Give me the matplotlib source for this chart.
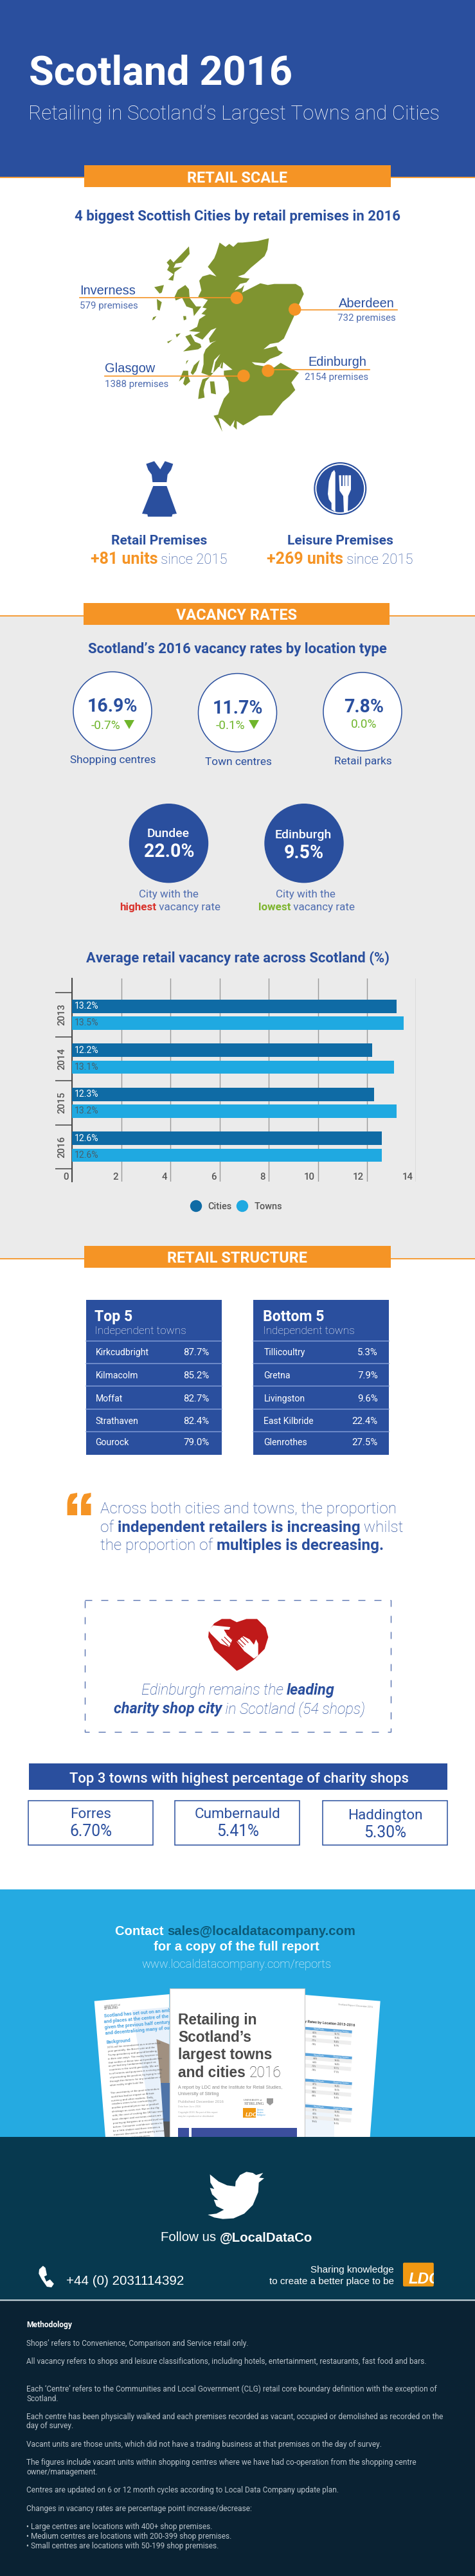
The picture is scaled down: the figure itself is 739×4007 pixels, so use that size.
import numpy as np
import matplotlib
matplotlib.use("Agg")
import matplotlib.pyplot as plt
from matplotlib.patches import Polygon, Rectangle, Circle, FancyBboxPatch, PathPatch
from matplotlib.path import Path

# chart values
years = ["2013", "2014", "2015", "2016"]
cities = [13.2, 12.2, 12.3, 12.6]
towns = [13.5, 13.1, 13.2, 12.6]
x_ticks = [0, 2, 4, 6, 8, 10, 12, 14]

big_cities = ["Inverness", "Aberdeen", "Glasgow", "Edinburgh"]
big_premises = [579, 732, 1388, 2154]

location_types = ["Shopping centres", "Town centres", "Retail parks"]
location_rates = ["16.9%", "11.7%", "7.8%"]
location_changes = ["-0.7%", "-0.1%", "0.0%"]

top_names = ["Kirkcudbright", "Kilmacolm", "Moffat", "Strathaven", "Gourock"]
top_vals = ["87.7%", "85.2%", "82.7%", "82.4%", "79.0%"]
bottom_names = ["Tillicoultry", "Gretna", "Livingston", "East Kilbride", "Glenrothes"]
bottom_vals = ["5.3%", "7.9%", "9.6%", "22.4%", "27.5%"]

charity_towns = ["Forres", "Cumbernauld", "Haddington"]
charity_vals = ["6.70%", "5.41%", "5.30%"]

left_page_blue = ["Scotland has set out on an ambitious", "and places at the centre of the country",
                  "given the previous half century was", "and decentralising many of our daily"]
left_page_body = ["2016 will be remembered as a momentous", "year generally: the Brexit vote and the",
                  "Trump presidency and ground-breaking", "in their own ways. The reality however is",
                  "that neither of these two unit predicate has", "as yet had any fundamental impact on",
                  "countries in the world generally. We are", "to all intents and purposes in a strong way",
                  "of promoting the position, by trying to sift", "through the rhetoric for any semblance of",
                  "what reality might look like.", "",
                  "The uncertainty of the post-referendum", "world has had an impact on Britain",
                  "currency and other markets. Daily,", "retailers seem to be confronting yet",
                  "another potential price rise or product", "shrinkage as costs rise. But on the flip",
                  "side, the cost of visiting the UK has never", "been cheaper and overseas visitors are",
                  "pouring up bargains at a record level seen", "before. Consumer confidence seems to",
                  "be a little shakier and there remains a", "massive discussion and disparity across",
                  "communities and consumers.", "",
                  "In short, despite what seems like", "momentous events, we have not yet seen",
                  "much that is going to look like and"]
right_col1 = [["8.2%", "8.0%", "7.1%", "7.8%"], ["6.4%", "6.4%", "7.2%", "7.8%"],
              ["8.1%", "8.0%", "8.4%", "8.8%"], ["8.1%", "8.0%", "10.1%", "10.6%"]]
right_col2 = [["16.1%", "15.8%", "15.4%", "16.9%"], ["14.6%", "14.4%", "13.7%", "17.3%"],
              ["15.4%", "15.0%", "15.4%", "16.8%"], ["15.8%", "15.4%", "15.5%", "16.5%"]]

methodology = [(3649, "Shops\u2019 refers to Convenience, Comparison and Service retail only."),
               (3677.4, "All vacancy refers to shops and leisure classifications, including hotels, entertainment, restaurants, fast food and bars."),
               (3720.2, "Each \u2018Centre\u2019 refers to the Communities and Local Government (CLG) retail core boundary definition with the exception of"),
               (3734.6, "Scotland."),
               (3763, "Each centre has been physically walked and each premises recorded as vacant, occupied or demolished as recorded on the"),
               (3777.5, "day of survey."),
               (3805.9, "Vacant units are those units, which did not have a trading business at that premises on the day of survey."),
               (3834.3, "The figures include vacant units within shopping centres where we have had co-operation from the shopping centre"),
               (3848.7, "owner/management."),
               (3877.1, "Centres are updated on 6 or 12 month cycles according to Local Data Company update plan."),
               (3906, "Changes in vacancy rates are percentage point increase/decrease:"),
               (3934.4, "\u2022 Large centres are locations with 400+ shop premises."),
               (3949.2, "\u2022 Medium centres are locations with 200-399 shop premises."),
               (3964.1, "\u2022 Small centres are locations with 50-199 shop premises.")]

BLUE = "#2a4f9e"
SOFT = "#4f6db0"
ORANGE = "#f59425"
LGREEN = "#6fb52c"
OLIVE = "#7f9430"
CYAN = "#25aae1"
TEAL = "#07394f"
NAVY = "#0a2233"
SANS = "Liberation Sans"

W, H = 739, 4007
fig = plt.figure(figsize=(W / 100, H / 100), dpi=100, facecolor="white")
ax = fig.add_axes([0, 0, 1, 1])
ax.set_xlim(0, W)
ax.set_ylim(H, 0)
ax.axis("off")
renderer = fig.canvas.get_renderer()


def T(x, y, s, size, color=BLUE, weight="normal", ha="left", family="Roboto", style="normal", rot=0, z=10):
    return ax.text(x, y, s, fontsize=size * 0.72, color=color, fontweight=weight, ha=ha, va="baseline",
                   family=family, fontstyle=style, rotation=rot, rotation_mode="anchor", zorder=z)


def text_w(s, size, weight, family, style):
    a = T(0, 0, "x" + s + "x", size, weight=weight, family=family, style=style)
    b = T(0, 0, "xx", size, weight=weight, family=family, style=style)
    w = a.get_window_extent(renderer).width - b.get_window_extent(renderer).width
    a.remove()
    b.remove()
    return w


def runs(x, y, parts, ha="left", family="Roboto", style="normal"):
    # parts: (text, size, weight, colour), laid out one after the other
    widths = [text_w(p[0], p[1], p[2], family, style) for p in parts]
    total = sum(widths)
    if ha == "center":
        x = x - total / 2
    for p, w in zip(parts, widths):
        T(x, y, p[0], p[1], p[3], p[2], family=family, style=style)
        x += w


def rect(x0, y0, x1, y1, color, z=1, **kw):
    ax.add_patch(Rectangle((x0, y0), x1 - x0, y1 - y0, facecolor=color, edgecolor="none", zorder=z, **kw))


def poly(pts, color, z=3, **kw):
    ax.add_patch(Polygon(pts, closed=True, facecolor=color, edgecolor="none", zorder=z, **kw))


def banner(y0, y1, line_y, s, base, x0=131, x1=608):
    ax.plot([0, W], [line_y, line_y], color=ORANGE, lw=1.3, zorder=2)
    rect(x0, y0, x1, y1, ORANGE, z=3)
    T((x0 + x1) / 2, base, s, 23.5, "white", "bold", ha="center")


# backgrounds
rect(0, 0, W, 274.5, BLUE)
rect(0, 958, W, 1957.5, "#ebebeb")
rect(0, 2938.5, W, 3324, CYAN)

# header
T(45, 131, "Scotland 2016", 63, "white", "bold")
T(44, 186, "Retailing in Scotland\u2019s Largest Towns and Cities", 31.2, "white", "light")
banner(257, 291, 275.5, "RETAIL SCALE", 284)
T(369.5, 343, "4 biggest Scottish Cities by retail premises in 2016", 22.2, BLUE, "bold", ha="center")


# map, in crop coords
def m(pts):
    return [(220 + a / 3, 380 + b / 3) for a, b in pts]


mainland = [(365, -8), (393, 12), (410, -2), (429, 12), (450, -8), (471, -8), (542, -15), (595, -28), (588, 25),
            (575, 55), (540, 85), (510, 110), (480, 140), (450, 150), (470, 156), (505, 160), (490, 178), (460, 185),
            (435, 215), (465, 205), (480, 190), (470, 225), (500, 210), (555, 182), (590, 190), (620, 185), (720, 185),
            (745, 200), (758, 232), (740, 270), (715, 330), (690, 385), (665, 440), (640, 458), (600, 465), (570, 490),
            (630, 475), (640, 495), (660, 505), (640, 520), (600, 535), (575, 555), (515, 550), (530, 562), (590, 572),
            (620, 575), (650, 553), (680, 570), (735, 600), (700, 645), (718, 680), (690, 710), (660, 735), (610, 798),
            (550, 800), (510, 825), (475, 845), (460, 835), (445, 825), (445, 865), (430, 850), (435, 820), (415, 850),
            (375, 815), (360, 810), (378, 875), (360, 840), (337, 800), (358, 795), (365, 770), (385, 720), (410, 690),
            (405, 640), (385, 610), (385, 590), (425, 585), (400, 565), (382, 550), (378, 580), (360, 572), (335, 600),
            (322, 615), (308, 610), (280, 600), (290, 560), (290, 515), (300, 490), (330, 460), (350, 450), (320, 460),
            (315, 440), (350, 390), (325, 400), (285, 445), (245, 425), (275, 410), (222, 405), (260, 385), (270, 350),
            (300, 330), (280, 325), (305, 300), (285, 295), (310, 260), (265, 245), (280, 215), (270, 170), (285, 150),
            (320, 140), (350, 150), (310, 105), (340, 65), (350, 40)]
islands = [[(320, 618), (300, 640), (290, 680), (295, 715), (265, 722), (270, 680), (285, 630)],
           [(320, 640), (340, 640), (348, 700), (325, 695)],
           [(175, 640), (195, 590), (218, 590), (220, 620), (228, 640), (205, 660), (195, 650), (205, 615)],
           [(155, 245), (170, 213), (205, 190), (222, 210), (225, 250), (255, 290), (280, 290), (245, 335), (240, 300), (210, 290), (190, 250), (160, 262)],
           [(205, 430), (230, 420), (250, 455), (275, 465), (280, 480), (265, 490), (230, 495), (195, 500), (230, 470)],
           [(222, 10), (225, 45), (190, 85), (160, 90), (150, 110), (190, 105), (155, 130), (148, 170), (125, 165), (150, 140), (120, 120), (130, 100), (118, 85), (135, 68), (150, 85)],
           [(60, 200), (105, 190), (95, 225), (85, 230)],
           [(72, 255), (95, 270), (85, 310), (75, 305)],
           [(55, 340), (70, 335), (60, 350), (50, 355)],
           [(160, 420), (183, 415), (165, 435)],
           [(120, 455), (145, 445), (125, 462)],
           [(195, 335), (208, 335), (210, 350), (198, 355)],
           [(210, 545), (220, 540), (208, 560)],
           [(230, 600), (245, 565), (272, 540), (255, 590), (240, 610)]]
lochs = [[(325, 600), (340, 540), (368, 512), (345, 550), (335, 600)],
         [(355, 590), (375, 550), (365, 590)]]
poly(m(mainland), OLIVE)
for isl in islands:
    poly(m(isl), OLIVE)
for l in lochs:
    poly(m(l), "white", z=4)

# city markers and labels: dot x, dot y, line y, line end
ax.plot([124, 368], [463.4, 463.4], color=ORANGE, lw=1.2, zorder=5)
ax.plot([458, 618], [481.5, 481.5], color=ORANGE, lw=1.2, zorder=5)
ax.plot([162.6, 379], [585, 585], color=ORANGE, lw=1.2, zorder=5)
ax.plot([417, 575], [574.5, 574.5], color=ORANGE, lw=1.2, zorder=5)
for cx, cy in [(368.3, 463.3), (458.7, 481.3), (379, 584.7), (417, 576.7)]:
    ax.add_patch(Circle((cx, cy), 9, color=ORANGE, zorder=6))
T(124, 458.5, big_cities[0], 20, BLUE, family=SANS)
T(124, 480, f"{big_premises[0]} premises", 15, SOFT)
T(613.5, 478, big_cities[1], 20, BLUE, ha="right", family=SANS)
T(616, 499, f"{big_premises[1]} premises", 15, SOFT, ha="right")
T(162.6, 579, big_cities[2], 20, BLUE, family=SANS)
T(163, 602, f"{big_premises[2]} premises", 15, SOFT)
T(570, 569, big_cities[3], 20, BLUE, ha="right", family=SANS)
T(573, 591.5, f"{big_premises[3]} premises", 15, SOFT, ha="right")


# dress and cutlery icons
def i8(pts):
    return [(210 + a / 3, 705 + b / 3) for a, b in pts]


poly(i8([(52, 50), (90, 37), (118, 75), (140, 37), (178, 50), (168, 78), (152, 100), (148, 135), (82, 135), (78, 100), (62, 78)]), BLUE)
poly(i8([(85, 153), (148, 153), (195, 282), (175, 285), (172, 296), (60, 296), (58, 285), (33, 282)]), BLUE)
ax.add_patch(Circle((529.3, 760), 40.3, color=BLUE, zorder=3))
ax.add_patch(Circle((529.3, 760), 38.2, color="white", zorder=3))
ax.add_patch(Circle((529.3, 760), 36.2, color=BLUE, zorder=3))
poly(i8([(930, 78), (918, 90), (905, 130), (900, 190), (905, 215), (917, 232), (917, 262), (935, 274), (935, 90)]), "white", z=4)
poly(i8([(952, 103), (1008, 103), (1008, 170), (995, 200), (993, 272), (975, 275), (972, 200), (955, 175)]), "white", z=4)
for sx in [966, 980, 994]:
    poly(i8([(sx - 2, 103), (sx + 2, 103), (sx + 2, 152), (sx - 2, 152)]), BLUE, z=5)

T(247.4, 847, "Retail Premises", 21, BLUE, "bold", ha="center")
runs(247.4, 877, [("+81 units", 25, "bold", ORANGE), (" since 2015", 22, "light", BLUE)], ha="center")
T(529, 847, "Leisure Premises", 21, BLUE, "bold", ha="center")
runs(529, 877, [("+269 units", 25, "bold", ORANGE), (" since 2015", 22, "light", BLUE)], ha="center")

# vacancy section
banner(938, 972, 958, "VACANCY RATES", 964, x0=130, x1=606)
T(369.5, 1016, "Scotland\u2019s 2016 vacancy rates by location type", 22, BLUE, "bold", ha="center")
circle_x = [175, 369.5, 564]
circle_y = [1106, 1108.6, 1107]
rate_base = [1107, 1109.6, 1108]
label_base = [1187, 1189.6, 1188.6]
change_x = [164, 358, 566]
change_base = [1134, 1134, 1132]
for i in range(3):
    ax.add_patch(Circle((circle_x[i], circle_y[i]), 61, facecolor="white", edgecolor=BLUE, lw=1.1, zorder=3))
    T(circle_x[i] + (2 if i == 2 else 0), rate_base[i], location_rates[i], 28.5, BLUE, "bold", ha="center")
    T(change_x[i], change_base[i], location_changes[i], 19, LGREEN, ha="center")
    T(circle_x[i] + 1, label_base[i], location_types[i], 17.2, BLUE, ha="center")
poly([(193, 1120), (209, 1120), (201, 1134)], LGREEN, z=5)
poly([(387, 1120), (403, 1120), (395, 1134)], LGREEN, z=5)

ax.add_patch(Circle((262.5, 1311.7), 61, color=BLUE, zorder=3))
ax.add_patch(Circle((473, 1311.7), 61, color=BLUE, zorder=3))
T(261.5, 1302, "Dundee", 19.5, "white", "medium", ha="center")
T(263, 1333, "22.0%", 28.5, "white", "bold", ha="center")
T(472, 1303.5, "Edinburgh", 19.5, "white", "medium", ha="center")
T(472.7, 1335, "9.5%", 28.5, "white", "bold", ha="center")
T(262.5, 1395.6, "City with the", 17, SOFT, ha="center")
runs(264.4, 1416, [("highest", 17, "bold", "#d9332c"), (" vacancy rate", 17, "normal", SOFT)], ha="center")
T(475, 1395.6, "City with the", 17, SOFT, ha="center")
runs(477, 1416, [("lowest", 17, "bold", "#7db52e"), (" vacancy rate", 17, "normal", SOFT)], ha="center")

# bar chart
T(369.5, 1496.5, "Average retail vacancy rate across Scotland (%)", 22, BLUE, "bold", ha="center")
chart = fig.add_axes([112.2 / W, 1 - 1838 / H, (647.5 - 112.2) / W, (1838 - 1522.4) / H], facecolor="none")
chart.set_xlim(0, 14)
chart.set_ylim(3.79, -0.817)
y_pos = np.arange(len(years))
chart.barh(y_pos - 0.191, cities, height=0.305, color="#0f6ba5", zorder=3)
chart.barh(y_pos + 0.191, towns, height=0.305, color="#1fa9e1", zorder=3)
chart.set_xticks(x_ticks)
chart.set_xticklabels([])
chart.tick_params(axis="x", length=0)
chart.grid(axis="x", color="#9a9a9a", lw=1, zorder=0)
chart.set_yticks(list(y_pos - 0.5) + [3.5])
chart.set_yticklabels([])
chart.tick_params(axis="y", length=26 * 0.72, width=1.1, color="#444444")
for side in ["top", "right", "bottom"]:
    chart.spines[side].set_visible(False)
chart.spines["left"].set_color("#444444")
chart.spines["left"].set_linewidth(1.4)
for i, yr in enumerate(years):
    chart.annotate(yr, xy=(0, i), xytext=(-15.5 * 0.72, 0), textcoords="offset points", rotation=90, ha="center",
                   va="center", fontsize=15 * 0.72, color="#555555", family="Roboto", fontweight="medium")
    chart.annotate(f"{cities[i]}%", xy=(0, i - 0.191), xytext=(3.5 * 0.72, 0), textcoords="offset points",
                   va="center", fontsize=14 * 0.72, color="white", family="Roboto", zorder=5)
    chart.annotate(f"{towns[i]}%", xy=(0, i + 0.191), xytext=(3.5 * 0.72, 0), textcoords="offset points",
                   va="center", fontsize=14 * 0.72, color="#46606e", family="Roboto", zorder=5)
for t in x_ticks:
    chart.annotate(str(t), xy=(t, 0), xycoords=("data", "axes fraction"), xytext=(-5 * 0.72, 3.2 * 0.72),
                   textcoords="offset points", ha="right", va="baseline", fontsize=15 * 0.72, color="#555555",
                   family="Roboto", fontweight="medium")
ax.add_patch(Circle((305, 1876), 8.5, color="#0f6ba5", zorder=3))
ax.add_patch(Circle((377, 1876), 8.5, color="#1fa9e1", zorder=3))
T(323.3, 1880.6, "Cities", 14.5, "#555555", "medium")
T(396, 1880.6, "Towns", 14.5, "#555555", "medium")

# retail structure
banner(1938, 1971.8, 1957.5, "RETAIL STRUCTURE", 1963.5)
row_lines = [2085.9, 2121, 2156.3, 2191.5, 2227]
row_base = [2108, 2144, 2180, 2214.8, 2248.4]
for x0, x1, head, hx, names, vals, nx, vx in [(133.8, 345, "Top 5", 147, top_names, top_vals, 148.4, 325.6),
                                              (394, 604.6, "Bottom 5", 409, bottom_names, bottom_vals, 410.5, 587.7)]:
    rect(x0, 2021.9, x1, 2262.7, BLUE, z=2)
    T(hx, 2054.7, head, 23, "white", "bold")
    T(hx, 2075, "Independent towns", 17.3, "white", "light")
    for yy in row_lines:
        ax.plot([x0, x1], [yy, yy], color="#7f9ad4", lw=1.1, zorder=3)
    for yy, n, v in zip(row_base, names, vals):
        T(nx, yy, n, 14, "white")
        T(vx, yy, v, 15, "white", ha="right")

# quote mark
for off in [0, 45.5 / 2.122]:
    x0 = 104.6 + off
    verts = [(x0, 2357), (x0, 2340), (x0, 2330), (x0 + 5, 2324), (x0 + 15.5, 2322), (x0 + 15.5, 2328), (x0 + 10, 2332),
             (x0 + 7.5, 2339), (x0 + 15.5, 2339), (x0 + 15.5, 2357), (x0, 2357)]
    codes = [Path.MOVETO, Path.LINETO, Path.CURVE3, Path.CURVE3, Path.LINETO, Path.LINETO, Path.CURVE3, Path.CURVE3,
             Path.LINETO, Path.LINETO, Path.CLOSEPOLY]
    ax.add_patch(PathPatch(Path(verts, codes), facecolor=ORANGE, edgecolor="none", zorder=3))
T(156, 2354.4, "Across both cities and towns, the proportion", 24.3, BLUE, "light")
runs(156, 2382.9, [("of ", 24.3, "light", BLUE), ("independent retailers is increasing", 24.3, "bold", BLUE), (" whilst", 24.3, "light", BLUE)])
runs(156, 2411.3, [("the proportion of ", 24.3, "light", BLUE), ("multiples is decreasing.", 24.3, "bold", BLUE)])

# charity box
ax.add_patch(Rectangle((131.5, 2488.8), 476.9, 204.7, facecolor="none", edgecolor="#5873b0", lw=1.0,
                       linestyle=(0, (7.9, 10.1)), zorder=3))


def i10(pts):
    return [(300 + a / 3, 2500 + b / 3) for a, b in pts]


poly(i10([(205, 70), (250, 55), (300, 55), (340, 95), (352, 140), (335, 195), (285, 245), (230, 285), (205, 297),
          (160, 255), (100, 200), (72, 140), (75, 110), (100, 75), (135, 55), (175, 55)]), "#c01a1a")
poly(i10([(72, 108), (95, 85), (175, 93), (170, 105), (145, 105), (160, 130), (185, 150), (170, 185), (130, 170), (85, 125)]), "white", z=4)
poly(i10([(205, 160), (235, 135), (265, 150), (285, 175), (295, 150), (305, 170), (305, 225), (285, 240), (240, 205)]), "white", z=4)
for a, b, c, d in [(135, 150, 165, 180), (148, 140, 178, 170), (160, 128, 190, 158), (205, 155, 235, 185),
                   (215, 145, 245, 175), (228, 135, 258, 165)]:
    ax.plot([300 + a / 3, 300 + c / 3], [2500 + b / 3, 2500 + d / 3], color="#c01a1a", lw=0.9, zorder=5)

runs(370.4, 2636, [("Edinburgh remains the ", 23.4, "light", BLUE), ("leading", 23.4, "bold", BLUE)], ha="center", style="italic")
runs(372.5, 2665.4, [("charity shop city", 23.4, "bold", BLUE), (" in Scotland (54 shops)", 23.4, "light", BLUE)], ha="center", style="italic")

rect(44.8, 2743, 695.6, 2783.8, BLUE)
T(372.3, 2773, "Top 3 towns with highest percentage of charity shops", 22, "white", "medium", ha="center")
box_x = [(44.3, 237.5), (272.4, 466), (502.4, 696)]
name_base = [2828, 2828, 2829.7]
val_base = [2855.7, 2855.7, 2857.8]
for (x0, x1), n, v, b1, b2 in zip(box_x, charity_towns, charity_vals, name_base, val_base):
    ax.add_patch(Rectangle((x0, 2800.6), x1 - x0, 68.9, facecolor="white", edgecolor=BLUE, lw=1.1, zorder=3))
    T((x0 + x1) / 2 + 0.5, b1, n, 22.5, BLUE, ha="center")
    T((x0 + x1) / 2 + 0.5, b2, v, 24.6, BLUE, ha="center")

# contact panel
runs(179, 3009.8, [("Contact ", 20.3, "bold", "white"), ("sales@localdatacompany.com", 20.3, "bold", "#0c5a78")], family=SANS)
T(367.6, 3034.3, "for a copy of the full report", 20.3, "white", "bold", ha="center", family=SANS)
T(367.6, 3060.8, "www.localdatacompany.com/reports", 18.4, "white", "light", ha="center")

# report pages, left sheet first
poly([(146.7, 3112.7), (263.5, 3102), (263.5, 3324), (164, 3324)], "#ffffff", z=3)
poly([(205, 3127), (263.5, 3122), (263.5, 3324), (240, 3324)], "#e8f1fb", z=3)
poly([(243.5, 3172), (263.5, 3180), (263.5, 3240), (250, 3240)], "#a09080", z=4)
poly([(250, 3240), (263.5, 3240), (263.5, 3300), (254, 3300)], "#4f74a8", z=4)
poly([(254, 3300), (263.5, 3300), (263.5, 3324), (256, 3324)], "#555555", z=4)
T(162, 3122, "UNIVERSITY of", 3.5, "#666666", family=SANS, rot=4.8, z=5)
T(162, 3126, "STIRLING", 5, "#555555", family=SANS, rot=4.8, z=5)
for j, s in enumerate(left_page_blue):
    T(161.5 + j * 0.8, 3138 + j * 8.9, s, 7.4, "#4aa3e0", "bold", rot=4.8, z=5)
T(165, 3179, "Background", 7, "#4aa3e0", "bold", rot=4.8, z=5)
for j, s in enumerate(left_page_body):
    T(167 + j * 0.43, 3186 + j * 5.9, s, 4.4, "#666666", rot=4.8, z=5)

# right sheet
poly([(474, 3103), (591.7, 3112.7), (575.7, 3324), (474, 3324)], "#ffffff", z=3)
poly([(474, 3270), (520, 3280), (520, 3324), (474, 3324)], "#eef5fc", z=3)
cosr, sinr = np.cos(np.radians(4.5)), np.sin(np.radians(4.5))


def page_pt(x0, y0, dx, dy):
    return (x0 + dx * cosr - dy * sinr, y0 + dx * sinr + dy * cosr)


T(526, 3119, "Scotland Report | December 2016", 3.6, "#999999", rot=-4.5, z=5)
T(474, 3146, "y Rates by Location 2013-2016", 5.6, "#444444", "bold", rot=-4.5, z=5)
for k, y0 in enumerate([3152.7, 3193.3, 3233.3, 3273.3]):
    pts = [page_pt(474, y0, 0, 0), page_pt(474, y0, 74, 0), page_pt(474, y0, 74, 4.5), page_pt(474, y0, 0, 4.5)]
    poly(pts, "#5ba4dc", z=4)
    T(*page_pt(474, y0, 14, 3.5), "Retail Parks", 3, "white", rot=-4.5, z=5)
    T(*page_pt(474, y0, 44, 3.5), "Shopping Centres", 3, "white", rot=-4.5, z=5)
    for r in range(4):
        if r % 2 == 0:
            pts = [page_pt(474, y0, 0, 4.5 + r * 6), page_pt(474, y0, 74, 4.5 + r * 6),
                   page_pt(474, y0, 74, 10.5 + r * 6), page_pt(474, y0, 0, 10.5 + r * 6)]
            poly(pts, "#eeeeee", z=4)
        T(*page_pt(474, y0, 13, 9 + r * 6), right_col1[k][r], 3.2, "#444444", rot=-4.5, z=5)
        T(*page_pt(474, y0, 47, 9 + r * 6), right_col2[k][r], 3.2, "#444444", rot=-4.5, z=5)

# cover page
ax.add_patch(Rectangle((263.5, 3093.3), 210.5, 240, facecolor="white", edgecolor="#c8c8c8", lw=0.8, zorder=6))
COVER = "#4a4a4a"
T(277, 3149, "Retailing in", 22.8, COVER, "bold", family=SANS, z=7)
T(277, 3176, "Scotland\u2019s", 22.8, COVER, "bold", family=SANS, z=7)
T(277, 3203.3, "largest towns", 22.8, COVER, "bold", family=SANS, z=7)
T(277, 3230.7, "and cities", 22.8, COVER, "bold", family=SANS, z=7)
T(277 + text_w("and cities ", 22.8, "bold", SANS, "normal"), 3230.7, "2016", 22.8, COVER, "light", z=7)
T(277, 3249.3, "A report by LDC and the Institute for Retail Studies,", 7.1, "#888888", family=SANS, z=7)
T(277, 3258.7, "University of Stirling", 7.1, "#888888", family=SANS, z=7)
T(277, 3271.3, "Published December 2016", 6, "#aaaaaa", family=SANS, z=7)
T(277, 3277.5, "Data from June 2016", 3.8, "#aaaaaa", family=SANS, z=7)
T(277, 3287.5, "Copyright 2016. No part of this report", 3.8, "#aaaaaa", family=SANS, z=7)
T(277, 3293.5, "may be reproduced or distributed.", 3.8, "#aaaaaa", family=SANS, z=7)
T(379.3, 3268.5, "UNIVERSITY of", 4, "#555555", family="Liberation Serif", z=7)
T(379.3, 3274.5, "STIRLING", 7, "#555555", family="Liberation Serif", z=7)
poly([(415, 3264), (425, 3264), (425, 3271), (420, 3275), (415, 3271)], "#999999", z=7)
rect(378, 3279, 398, 3294, "#f09812", z=7)
T(382, 3292, "LDC", 9, "white", "bold", family=SANS, style="italic", z=8)
T(399.5, 3283, "Dynamic", 2.8, "#4aa3e0", family=SANS, z=7)
T(399.5, 3287, "Location", 2.8, "#4aa3e0", family=SANS, z=7)
T(399.5, 3291, "Intelligence", 2.8, "#4aa3e0", family=SANS, z=7)
rect(276.7, 3310, 294, 3330, "#3b4f9e", z=7)
rect(298.3, 3310, 461.7, 3330, "#3b4f9e", z=7)

# footer
rect(0, 3324, W, 3577.3, TEAL, z=8)
rect(0, 3577.9, W, H, NAVY, z=8)
ax.plot([0, W], [3577.5, 3577.5], color="#9fb3bd", lw=1, zorder=9)


def i11(pts):
    return [(40 + a / 3, 3360 + b / 3) for a, b in pts]


poly(i11([(860, 67), (900, 100), (940, 118), (978, 123), (980, 100), (1000, 70), (1030, 55), (1060, 60), (1075, 70),
          (1108, 60), (1090, 82), (1113, 85), (1088, 105), (1085, 150), (1060, 210), (1020, 250), (970, 272),
          (920, 275), (880, 268), (850, 255), (890, 250), (925, 232), (890, 215), (878, 185), (898, 187), (870, 160),
          (860, 130), (880, 135), (862, 105)]), "white", z=10)
runs(250, 3486, [("Follow us ", 20.4, "normal", "white"), ("@LocalDataCo", 20.4, "bold", "white")], family=SANS)
poly([(61, 3530), (66.9, 3524.5), (70.7, 3527.7), (73, 3539), (68.8, 3541.2), (72.1, 3549), (77.8, 3545.7), (83.9, 3552.5),
      (80.1, 3558), (73, 3557), (65, 3545.7), (60.3, 3536.7)], "white", z=10)
T(103, 3553.8, "+44 (0) 2031114392", 20.6, "white", family=SANS)
T(612.6, 3535.3, "Sharing knowledge", 15.3, "white", ha="right", family=SANS)
T(612.6, 3553, "to create a better place to be", 15.3, "white", ha="right", family=SANS)
ax.add_patch(FancyBboxPatch((628, 3520.6), 45.8, 35, boxstyle="round,pad=1,rounding_size=2", facecolor="#f09812",
                            edgecolor="none", zorder=10))
ldc = T(636, 3552.5, "LDC", 24, "white", "bold", family=SANS, style="italic", z=11)
ldc.set_clip_on(True)
ldc.set_clip_path(Rectangle((626.8, 3519.6), 48, 37, transform=ax.transData))

T(41, 3620, "Methodology", 12, "white", "bold", z=10)
for yy, line in methodology:
    T(41, yy, line, 11.9, "#b9c2c9", z=10)

fig.savefig("out.png", dpi=100, facecolor="white")
